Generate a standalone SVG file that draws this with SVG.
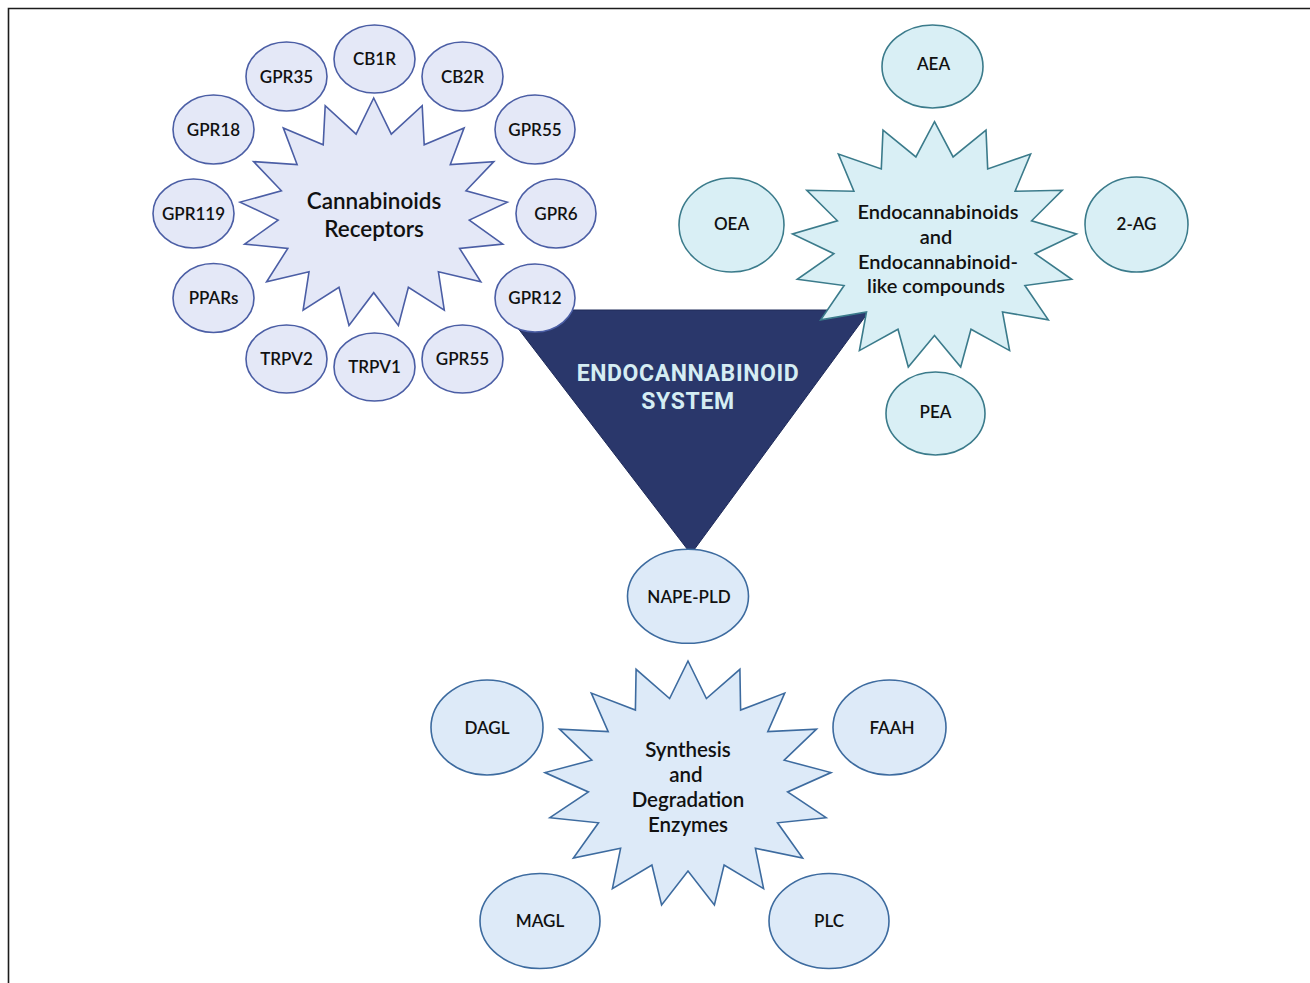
<svg xmlns="http://www.w3.org/2000/svg" width="1310" height="983" viewBox="0 0 1310 983">
<style>
.lbl{font-family:Lato,"Liberation Sans",sans-serif;font-size:17px;font-weight:600;fill:#111;text-anchor:middle}
.big{font-family:Lato,"Liberation Sans",sans-serif;font-weight:600;fill:#111;text-anchor:middle}
.rec{fill:#e4e8f7;stroke:#4b5ea5;stroke-width:1.6}
.cmp{fill:#d9eff5;stroke:#3b7b8b;stroke-width:1.6}
.enz{fill:#ddeaf8;stroke:#3d6b9f;stroke-width:1.6}
.tri{fill:#2a376b;stroke:#1e2a58;stroke-width:1}
.ttl{font-family:Roboto,"Liberation Sans",sans-serif;font-size:23px;font-weight:700;letter-spacing:0.6px;fill:#d5edf3;text-anchor:middle}
</style>
<rect width="1310" height="983" fill="#fff"/>
<path d="M8.5,983 V8.5 H1310" fill="none" stroke="#1c1c1c" stroke-width="1.6"/>
<g id="connectors"/>
<g id="endocannabinoid-system">
<polygon class="tri" points="504,310 870,310 691,554"/>
<text class="ttl" x="688" y="381">ENDOCANNABINOID</text>
<text class="ttl" x="688" y="409">SYSTEM</text>
</g>
<g id="cannabinoids-receptors">
<polygon class="rec" points="373.7,98 391.3,134.1 422.2,105.7 424.2,144.7 464.1,127.9 450.3,164.5 493.8,161.6 466,190.8 507.3,202.1 469.3,220.1 502.8,244.1 459.6,248.4 480.8,281.8 438.4,271.8 444.3,310.2 408.4,287.3 398.4,325.5 373.7,292.7 349,325.5 339,287.3 303.1,310.2 309,271.8 266.6,281.8 287.8,248.4 244.6,244.1 278.1,220.1 240.1,202.1 281.4,190.8 253.6,161.6 297.1,164.5 283.3,127.9 323.2,144.7 325.2,105.7 356.1,134.1"/>
<text class="big" font-size="22.5" x="374" y="209">Cannabinoids</text>
<text class="big" font-size="22.5" x="374" y="237">Receptors</text>
</g>
<g id="cb1r"><ellipse class="rec" cx="374.5" cy="59" rx="40.5" ry="34"/><text class="lbl" x="374.5" y="65">CB1R</text></g>
<g id="gpr35"><ellipse class="rec" cx="286.5" cy="76.5" rx="40.5" ry="34.5"/><text class="lbl" x="286.5" y="82.5">GPR35</text></g>
<g id="cb2r"><ellipse class="rec" cx="462.5" cy="76.5" rx="40.5" ry="34.5"/><text class="lbl" x="462.5" y="82.5">CB2R</text></g>
<g id="gpr18"><ellipse class="rec" cx="213.5" cy="129.5" rx="40.5" ry="34.5"/><text class="lbl" x="213.5" y="135.5">GPR18</text></g>
<g id="gpr55-a"><ellipse class="rec" cx="535" cy="129.5" rx="40" ry="34.5"/><text class="lbl" x="535" y="135.5">GPR55</text></g>
<g id="gpr119"><ellipse class="rec" cx="193.5" cy="213.5" rx="40.5" ry="34.5"/><text class="lbl" x="193.5" y="219.5">GPR119</text></g>
<g id="gpr6"><ellipse class="rec" cx="556" cy="213.5" rx="40" ry="34.5"/><text class="lbl" x="556" y="219.5">GPR6</text></g>
<g id="pparsn"><ellipse class="rec" cx="213.5" cy="298" rx="40.5" ry="34.5"/><text class="lbl" x="213.5" y="304">PPARs</text></g>
<g id="gpr12"><ellipse class="rec" cx="535" cy="298" rx="40" ry="34"/><text class="lbl" x="535" y="304">GPR12</text></g>
<g id="trpv2"><ellipse class="rec" cx="286.5" cy="359" rx="40.5" ry="34"/><text class="lbl" x="286.5" y="365">TRPV2</text></g>
<g id="trpv1"><ellipse class="rec" cx="374.5" cy="367" rx="40.5" ry="34"/><text class="lbl" x="374.5" y="373">TRPV1</text></g>
<g id="gpr55-b"><ellipse class="rec" cx="462.5" cy="359" rx="40.5" ry="34"/><text class="lbl" x="462.5" y="365">GPR55</text></g>
<g id="endocannabinoids">
<polygon class="cmp" points="934.5,121.7 953.1,156.9 986,130.1 987.7,168.9 1030.6,154 1015.1,191.2 1062.2,190.3 1031.6,220.8 1076.5,234 1035.1,253.7 1071.7,279.3 1024.9,285.5 1048.3,319.9 1002.5,311.9 1009.6,350.6 971,329.3 960.7,367 934.5,335.4 908.3,367 898,329.3 859.4,350.6 866.5,311.9 820.7,319.9 844.1,285.5 797.3,279.3 833.9,253.7 792.5,234 837.4,220.8 806.8,190.3 853.9,191.2 838.4,154 881.3,168.9 883,130.1 915.9,156.9"/>
<text class="big" font-size="20" x="938" y="219">Endocannabinoids</text>
<text class="big" font-size="20" x="936" y="244">and</text>
<text class="big" font-size="20" x="938" y="269">Endocannabinoid-</text>
<text class="big" font-size="20" x="936" y="293">like compounds</text>
</g>
<g id="aea"><ellipse class="cmp" cx="932.5" cy="66.5" rx="50.5" ry="41.5"/><text class="lbl" x="933.5" y="70">AEA</text></g>
<g id="oea"><ellipse class="cmp" cx="731.5" cy="225" rx="52.5" ry="47"/><text class="lbl" x="731.5" y="230">OEA</text></g>
<g id="two-ag"><ellipse class="cmp" cx="1136.5" cy="224.5" rx="51.5" ry="47.5"/><text class="lbl" x="1136.5" y="229.5">2-AG</text></g>
<g id="pea"><ellipse class="cmp" cx="935.5" cy="413.5" rx="49.5" ry="41.5"/><text class="lbl" x="935.5" y="418">PEA</text></g>
<g id="nape-pld"><ellipse class="enz" cx="688" cy="596.3" rx="60.5" ry="47"/><text class="lbl" x="689" y="603">NAPE-PLD</text></g>
<g id="enzymes">
<polygon class="enz" points="688,661 706.4,698.5 739.9,669.3 740.6,710 784.7,693.1 767.8,731.6 816.5,729.2 784.2,760.2 831,772.6 787.6,792 826.1,817.7 777.5,822.8 802.6,858.1 755.4,848.3 763.6,888.6 724.1,865.1 714.4,904.9 688,871 661.6,904.9 651.9,865.1 612.4,888.6 620.6,848.3 573.4,858.1 598.5,822.8 549.9,817.7 588.4,792 545,772.6 591.8,760.2 559.5,729.2 608.2,731.6 591.3,693.1 635.4,710 636.1,669.3 669.6,698.5"/>
<text class="big" font-size="20.5" x="688" y="757">Synthesis</text>
<text class="big" font-size="20.5" x="686" y="782">and</text>
<text class="big" font-size="20.5" x="688" y="807">Degradation</text>
<text class="big" font-size="20.5" x="688" y="832">Enzymes</text>
</g>
<g id="dagl"><ellipse class="enz" cx="487" cy="727.5" rx="56" ry="47.5"/><text class="lbl" x="487" y="734">DAGL</text></g>
<g id="faah"><ellipse class="enz" cx="889.5" cy="727.5" rx="56.5" ry="47.5"/><text class="lbl" x="892" y="734">FAAH</text></g>
<g id="magl"><ellipse class="enz" cx="540" cy="921" rx="60" ry="47.5"/><text class="lbl" x="540" y="927">MAGL</text></g>
<g id="plc"><ellipse class="enz" cx="829" cy="921" rx="60" ry="47.5"/><text class="lbl" x="829" y="927">PLC</text></g>
</svg>
